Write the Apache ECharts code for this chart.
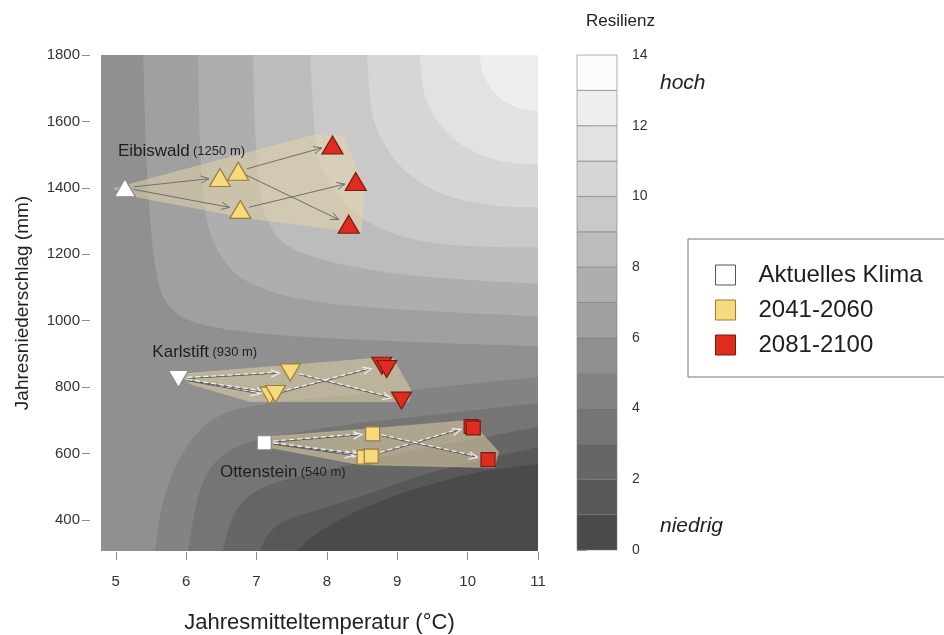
<!DOCTYPE html>
<html><head><meta charset="utf-8">
<script src="https://cdn.jsdelivr.net/npm/echarts@6/dist/echarts.min.js"></script>
<style>html,body{margin:0;padding:0;background:#fff}#c{width:944px;height:635px}</style>
</head><body><div id="c"></div>
<script>
// ---------- axes ----------
const xTicks = [5, 6, 7, 8, 9, 10, 11];
const yTicks = [400, 600, 800, 1000, 1200, 1400, 1600, 1800];
const xRange = [4.79, 11];
const yRange = [306, 1800];
const levelRange = [0, 14];

// ---------- contour boundaries, [temperature, precipitation] ----------
// levels above the saddle band (resilience rising towards top-right)
const contour6  = [[5.39,1800],[5.43,1513],[5.49,1302],[5.57,1152],[5.70,1062],[5.98,1007],[6.48,977],[7.19,959],[8.04,947],[9.32,935],[11,923]];
const contour7  = [[6.17,1800],[6.20,1513],[6.27,1332],[6.41,1227],[6.67,1149],[6.98,1107],[7.38,1077],[7.90,1056],[8.57,1041],[9.75,1025],[11,1013]];
const contour8  = [[6.95,1800],[6.98,1573],[7.05,1392],[7.19,1287],[7.48,1221],[8.09,1176],[9.04,1140],[10.03,1122],[11,1110]];
const contour9  = [[7.76,1800],[7.86,1516],[8.09,1401],[8.41,1323],[8.90,1266],[9.54,1233],[10.35,1222],[11,1221]];
const contour10 = [[8.57,1800],[8.64,1630],[8.81,1534],[9.05,1465],[9.42,1404],[9.90,1365],[10.52,1344],[11,1341]];
const contour11 = [[9.32,1800],[9.37,1696],[9.49,1630],[9.66,1579],[9.90,1531],[10.24,1495],[10.66,1474],[11,1471]];
const contour12 = [[10.17,1800],[10.22,1746],[10.34,1697],[10.50,1664],[10.71,1641],[11,1630]];
// levels below the saddle band (resilience falling towards bottom-right)
const contour5 = [[5.56,306],[5.63,415],[5.77,520],[5.98,610],[6.27,685],[6.69,731],[7.33,755],[8.04,770],[9.04,788],[10.03,809],[11,830]];
const contour4 = [[6.03,306],[6.10,400],[6.20,490],[6.37,562],[6.69,616],[7.12,646],[7.76,670],[8.61,695],[9.75,722],[11,752]];
const contour3 = [[6.52,306],[6.62,385],[6.77,445],[7.02,490],[7.40,520],[7.90,544],[8.61,580],[9.46,619],[10.32,652],[11,680]];
const contour2 = [[7.05,306],[7.16,355],[7.38,394],[7.69,418],[8.11,445],[8.75,490],[9.46,541],[10.32,586],[11,619]];
const contour1 = [[7.58,306],[7.83,355],[8.19,400],[8.57,439],[9.04,478],[9.51,508],[10.17,544],[11,568]];
const saddleLevel = 5;           // band 5-6 covers the left side
const upperLevels = [6, 7, 8, 9, 10, 11, 12];
const lowerLevels = [5, 4, 3, 2, 1];

// ---------- sites ----------
const periodNames = ['Aktuelles Klima', '2041-2060', '2081-2100'];
const siteNames = ['Eibiswald', 'Karlstift', 'Ottenstein'];
const siteElevations = ['(1250 m)', '(930 m)', '(540 m)'];
const siteLabelAnchor = [[5.03,1510],[5.52,905],[6.48,544]];

const eibiswaldAktuell = [[5.13,1400]];
const eibiswald2041 = [[6.48,1431],[6.74,1450],[6.77,1335]];
const eibiswald2081 = [[8.08,1529],[8.41,1419],[8.31,1290]];
const karlstiftAktuell = [[5.89,824]];
const karlstift2041 = [[7.48,844],[7.19,774],[7.27,779]];
const karlstift2081 = [[8.78,864],[8.85,854],[9.06,759]];
const ottensteinAktuell = [[7.11,632]];
const ottenstein2041 = [[8.65,659],[8.53,589],[8.63,592]];
const ottenstein2081 = [[10.05,681],[10.08,677],[10.29,581]];

// convex envelopes around each site's scenarios
const eibiswaldHull = [[4.97,1398],[7.80,1558],[8.23,1556],[8.53,1401],[8.49,1265],[6.87,1309],[5.16,1378]];
const karlstiftHull = [[5.91,839],[8.65,886],[8.94,886],[9.20,788],[9.16,756],[6.91,756],[6.06,809]];
const ottensteinHull = [[7.15,650],[8.71,676],[10.03,700],[10.44,605],[10.38,557],[8.47,566],[7.15,619]];

// arrows: indices into [aktuell, 2041 x3, 2081 x3]
const eibiswaldArrows = [[0,1],[0,3],[2,4],[2,6],[3,5]];
const karlstiftArrows = [[0,1],[0,2],[0,3],[2,4],[1,6]];
const ottensteinArrows = [[0,1],[0,2],[0,3],[3,4],[1,6]];

// ---------- styles ----------
const FONT = 'Liberation Sans, Arial, Helvetica, sans-serif';
const bandColors = ['#4a4a4a','#585858','#666666','#757575','#838383','#909090','#a0a0a0',
                    '#aeaeae','#bcbcbc','#c9c9c9','#d6d6d6','#e2e2e2','#eeeeee','#fbfbfb'];
const periodFill = ['#ffffff', '#f7da7e', '#de2d1f'];
const periodBorder = ['#8a8a8a', '#9c7d36', '#7d1810'];

// ---------- build ----------
const upperCurves = [contour6, contour7, contour8, contour9, contour10, contour11, contour12];
const lowerCurves = [contour5, contour4, contour3, contour2, contour1];
const bands = [];
upperCurves.forEach((c, i) => bands.push({ pts: c, corner: [xRange[1], yRange[1]], color: bandColors[upperLevels[i]] }));
lowerCurves.forEach((c, i) => bands.push({ pts: c, corner: [xRange[1], yRange[0]], color: bandColors[lowerLevels[i] - 1] }));

function smoothPath(px) {
  let d = 'M' + px[0][0] + ' ' + px[0][1];
  for (let i = 0; i < px.length - 1; i++) {
    const p0 = px[Math.max(i - 1, 0)], p1 = px[i], p2 = px[i + 1], p3 = px[Math.min(i + 2, px.length - 1)];
    const c1x = p1[0] + (p2[0] - p0[0]) / 6, c1y = p1[1] + (p2[1] - p0[1]) / 6;
    const c2x = p2[0] - (p3[0] - p1[0]) / 6, c2y = p2[1] - (p3[1] - p1[1]) / 6;
    d += ' C' + c1x + ' ' + c1y + ' ' + c2x + ' ' + c2y + ' ' + p2[0] + ' ' + p2[1];
  }
  return d;
}

const sitePoints = [
  [...eibiswaldAktuell, ...eibiswald2041, ...eibiswald2081],
  [...karlstiftAktuell, ...karlstift2041, ...karlstift2081],
  [...ottensteinAktuell, ...ottenstein2041, ...ottenstein2081]
];
const arrowList = [];
[eibiswaldArrows, karlstiftArrows, ottensteinArrows].forEach((arr, s) =>
  arr.forEach(a => arrowList.push({ site: s, from: sitePoints[s][a[0]], to: sitePoints[s][a[1]] })));
const hulls = [eibiswaldHull, karlstiftHull, ottensteinHull];

const siteSymbol = [
  { symbol: 'triangle', rotate: 0, size: [21, 18] },
  { symbol: 'triangle', rotate: 180, size: [20, 17] },
  { symbol: 'rect', rotate: 0, size: 14 }
];
function marks(list, s) {
  return list.map(p => ({ value: p, symbol: siteSymbol[s].symbol, symbolRotate: siteSymbol[s].rotate, symbolSize: siteSymbol[s].size }));
}
const periodData = [
  [...marks(eibiswaldAktuell, 0), ...marks(karlstiftAktuell, 1), ...marks(ottensteinAktuell, 2)],
  [...marks(eibiswald2041, 0), ...marks(karlstift2041, 1), ...marks(ottenstein2041, 2)],
  [...marks(eibiswald2081, 0), ...marks(karlstift2081, 1), ...marks(ottenstein2081, 2)]
];

const dummy = n => Array.from({ length: n }, () => [xRange[0], yRange[0]]);

const series = [];
// contour background
series.push({
  type: 'custom', xAxisIndex: 0, yAxisIndex: 0, z: 1, silent: true, clip: true,
  data: dummy(1 + bands.length),
  renderItem(params, api) {
    const i = params.dataIndex;
    if (i === 0) {
      const a = api.coord([xRange[0], yRange[1]]), b = api.coord([xRange[1], yRange[0]]);
      return { type: 'rect', shape: { x: a[0], y: a[1], width: b[0] - a[0], height: b[1] - a[1] }, style: { fill: bandColors[saddleLevel] } };
    }
    const band = bands[i - 1];
    const px = band.pts.map(p => api.coord(p));
    const c = api.coord(band.corner);
    return { type: 'path', shape: { pathData: smoothPath(px) + ' L' + c[0] + ' ' + c[1] + ' Z' }, style: { fill: band.color } };
  }
});
// hulls
series.push({
  type: 'custom', xAxisIndex: 0, yAxisIndex: 0, z: 2, silent: true,
  data: dummy(hulls.length),
  renderItem(params, api) {
    return { type: 'polygon', shape: { points: hulls[params.dataIndex].map(p => api.coord(p)) },
      style: { fill: 'rgba(232,214,170,0.5)', stroke: 'rgba(232,214,170,0.3)', lineWidth: 1 } };
  }
});
// arrows
series.push({
  type: 'custom', xAxisIndex: 0, yAxisIndex: 0, z: 3, silent: true,
  data: dummy(arrowList.length),
  renderItem(params, api) {
    const a = arrowList[params.dataIndex];
    const p = api.coord(a.from), q = api.coord(a.to);
    const dx = q[0] - p[0], dy = q[1] - p[1], L = Math.hypot(dx, dy), ux = dx / L, uy = dy / L;
    const s = [p[0] + ux * 9, p[1] + uy * 9], e = [q[0] - ux * 11, q[1] - uy * 11];
    const h = 9, ca = Math.cos(0.42), sa = Math.sin(0.42);
    const l = [e[0] - h * (ux * ca - uy * sa), e[1] - h * (uy * ca + ux * sa)];
    const r = [e[0] - h * (ux * ca + uy * sa), e[1] - h * (uy * ca - ux * sa)];
    const children = [];
    if (a.site === 0) {
      children.push({ type: 'line', shape: { x1: s[0], y1: s[1], x2: e[0], y2: e[1] }, style: { stroke: '#6e6e6e', lineWidth: 1 } });
      children.push({ type: 'polyline', shape: { points: [l, e, r] }, style: { stroke: '#6e6e6e', lineWidth: 1, fill: null } });
    } else {
      children.push({ type: 'line', shape: { x1: s[0], y1: s[1], x2: e[0], y2: e[1] }, style: { stroke: '#555', lineWidth: 1 } });
      children.push({ type: 'line', shape: { x1: s[0], y1: s[1] - 1, x2: e[0], y2: e[1] - 1 }, style: { stroke: '#eeeeee', lineWidth: 1.3, lineDash: [5, 3] } });
      children.push({ type: 'polyline', shape: { points: [l, e, r] }, style: { stroke: '#e8e8e8', lineWidth: 1.4, fill: null } });
    }
    return { type: 'group', children };
  }
});
// markers
periodNames.forEach((name, k) => series.push({
  type: 'scatter', name, xAxisIndex: 0, yAxisIndex: 0, z: 4, silent: true,
  itemStyle: { color: periodFill[k], borderColor: periodBorder[k], borderWidth: 1.2, opacity: 1 },
  data: periodData[k]
}));
// site labels
series.push({
  type: 'custom', xAxisIndex: 0, yAxisIndex: 0, z: 5, silent: true,
  data: dummy(siteNames.length),
  renderItem(params, api) {
    const i = params.dataIndex;
    const pt = api.coord(siteLabelAnchor[i]);
    return { type: 'text', x: pt[0], y: pt[1], style: {
      text: '{a|' + siteNames[i] + '} {b|' + siteElevations[i] + '}',
      align: 'left', verticalAlign: 'middle', fontFamily: FONT,
      rich: { a: { fontSize: 17, fill: '#1e1e1e', fontFamily: FONT }, b: { fontSize: 13, fill: '#1e1e1e', fontFamily: FONT } } } };
  }
});
// colour bar
series.push({
  type: 'custom', xAxisIndex: 1, yAxisIndex: 1, z: 2, silent: true,
  data: bandColors.map((c, i) => [0, i]),
  renderItem(params, api) {
    const i = params.dataIndex;
    const a = api.coord([0, i + 1]), b = api.coord([1, i]);
    return { type: 'rect', shape: { x: a[0], y: a[1], width: b[0] - a[0], height: b[1] - a[1] },
      style: { fill: bandColors[i], stroke: '#7c7c7c', lineWidth: 0.6 } };
  }
});

const option = {
  animation: false,
  textStyle: { fontFamily: FONT },
  grid: [
    { left: 101, top: 55, width: 437, height: 496, outerBoundsMode: 'none', containLabel: false },
    { left: 577, top: 55, width: 40, height: 495, outerBoundsMode: 'none', containLabel: false }
  ],
  xAxis: [
    { gridIndex: 0, type: 'value', min: xRange[0], max: xRange[1], offset: 1,
      axisLine: { show: false }, splitLine: { show: false },
      axisTick: { show: true, length: 8, customValues: xTicks, lineStyle: { color: '#8a8a8a' } },
      axisLabel: { customValues: xTicks, fontSize: 15, color: '#333', margin: 22, fontFamily: FONT, formatter: v => String(v) },
      name: 'Jahresmitteltemperatur (°C)', nameLocation: 'middle', nameGap: 60,
      nameTextStyle: { fontSize: 22, color: '#222', fontFamily: FONT } },
    { gridIndex: 1, type: 'value', min: 0, max: 1, show: false }
  ],
  yAxis: [
    { gridIndex: 0, type: 'value', min: yRange[0], max: yRange[1], offset: 11,
      axisLine: { show: false }, splitLine: { show: false },
      axisTick: { show: true, length: 8, customValues: yTicks, lineStyle: { color: '#8a8a8a' } },
      axisLabel: { customValues: yTicks, fontSize: 15, color: '#333', margin: 10, fontFamily: FONT, formatter: v => String(v) },
      name: 'Jahresniederschlag (mm)', nameLocation: 'middle', nameGap: 58, nameRotate: 90,
      nameTextStyle: { fontSize: 19, color: '#222', fontFamily: FONT } },
    { gridIndex: 1, type: 'value', position: 'right', min: levelRange[0], max: levelRange[1], interval: 2,
      axisLine: { show: false }, splitLine: { show: false },
      axisTick: { show: true, length: 10, lineStyle: { color: '#9a9a9a' } },
      axisLabel: { fontSize: 14, color: '#333', margin: 15, fontFamily: FONT, formatter: v => String(v) } }
  ],
  legend: {
    orient: 'vertical', left: 688, top: 239, selectedMode: false,
    padding: [24, 80, 20, 27], itemWidth: 20, itemHeight: 20, itemGap: 11,
    borderColor: '#777', borderWidth: 1, icon: 'rect',
    textStyle: { fontSize: 24, color: '#1e1e1e', padding: [0, 0, 0, 18], fontFamily: FONT },
    data: periodNames.map((n, k) => ({ name: n, itemStyle: { color: periodFill[k], borderColor: k === 0 ? '#555' : periodBorder[k], borderWidth: 1 } }))
  },
  graphic: [
    { type: 'text', left: 586, top: 13, style: { text: 'Resilienz', fontSize: 17, fill: '#222', fontFamily: FONT } },
    { type: 'text', left: 660, top: 73, style: { text: 'hoch', fontSize: 21, fontStyle: 'italic', fill: '#222', fontFamily: FONT } },
    { type: 'text', left: 660, top: 516, style: { text: 'niedrig', fontSize: 21, fontStyle: 'italic', fill: '#222', fontFamily: FONT } }
  ],
  series
};
const chart = echarts.init(document.getElementById('c'), null, { renderer: 'canvas' });
chart.setOption(option);
</script></body></html>
